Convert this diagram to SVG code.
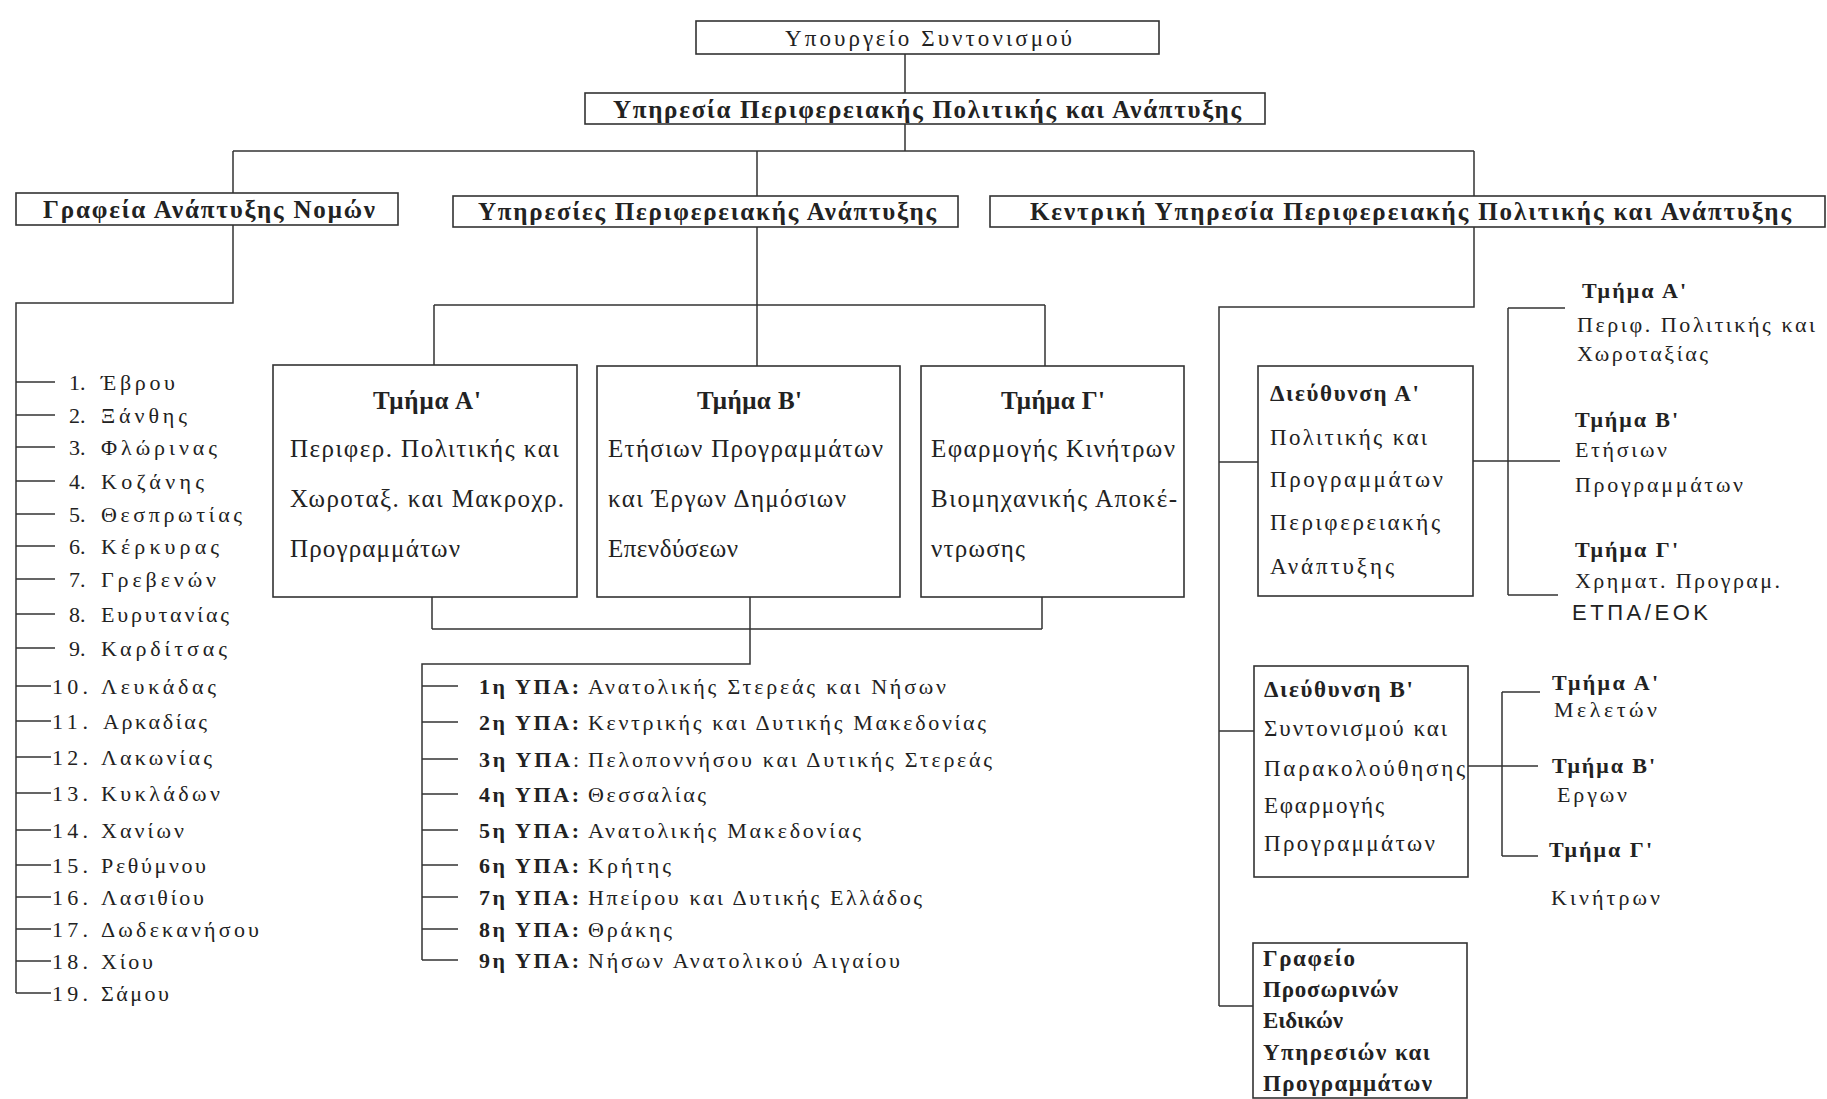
<svg xmlns="http://www.w3.org/2000/svg" width="1827" height="1099" viewBox="0 0 1827 1099">
<style>
text{font-family:"Liberation Serif","Times New Roman",serif;fill:#222}
.b{font-weight:bold}
.s22{font-size:22px}
.s23{font-size:23px}
.s24{font-size:24px}
.s25{font-size:25px}
.box{fill:#fff;stroke:#333;stroke-width:1.6}
.ln{fill:none;stroke:#333;stroke-width:1.5}
</style>
<rect width="1827" height="1099" fill="#fff"/>
<g id="connectors" class="ln">
<path d="M905 54V93M905 124V151M233 151H1474M233 151V193M757 151V196M1474 151V196"/>
<path d="M233 225V303H16V993"/>
<path d="M16 382H55M16 415H55M16 447H55M16 481H55M16 514H55M16 546H55M16 579H55M16 614H55M16 648H55M16 686H51M16 721H51M16 757H51M16 793H51M16 830H51M16 865H51M16 897H51M16 929H51M16 961H51M16 993H51"/>
<path d="M757 227V305M434 305H1045M434 305V365M757 305V366M1045 305V366"/>
<path d="M432 597V629M750 597V629M1042 597V629M432 629H1042M750 629V664H422V960"/>
<path d="M422 686H458M422 722H458M422 759H458M422 794H458M422 830H458M422 865H458M422 897H458M422 929H458M422 960H458"/>
<path d="M1474 227V307H1219V1006M1219 462H1258M1219 731H1254M1219 1006H1253"/>
<path d="M1473 461H1560M1508 308V595M1508 308H1565M1508 595H1558"/>
<path d="M1468 766H1538M1502 692V856M1502 692H1540M1502 856H1538"/>
</g>
<g id="n-ministry"><rect class="box" x="696" y="21" width="463" height="33"/><text class="s23" x="785" y="46" textLength="287" lengthAdjust="spacing">Υπουργείο Συντονισμού</text></g>
<g id="n-service"><rect class="box" x="585" y="93" width="680" height="31"/><text class="s25 b" x="613" y="118" textLength="628" lengthAdjust="spacing">Υπηρεσία Περιφερειακής Πολιτικής και Ανάπτυξης</text></g>
<g id="n-grafeia"><rect class="box" x="16" y="193" width="382" height="32"/><text class="s25 b" x="43" y="218" textLength="332" lengthAdjust="spacing">Γραφεία Ανάπτυξης Νομών</text></g>
<g id="n-ypiresies"><rect class="box" x="453" y="196" width="505" height="31"/><text class="s25 b" x="478" y="220" textLength="458" lengthAdjust="spacing">Υπηρεσίες Περιφερειακής Ανάπτυξης</text></g>
<g id="n-kentriki"><rect class="box" x="990" y="196" width="835" height="31"/><text class="s25 b" x="1030" y="220" textLength="761" lengthAdjust="spacing">Κεντρική Υπηρεσία Περιφερειακής Πολιτικής και Ανάπτυξης</text></g>
<g id="n-nomoi" class="s22">
<text x="69" y="390">1.</text><text x="101" y="390" textLength="74" lengthAdjust="spacing">Έβρου</text>
<text x="69" y="423">2.</text><text x="101" y="423" textLength="86" lengthAdjust="spacing">Ξάνθης</text>
<text x="69" y="455">3.</text><text x="101" y="455" textLength="116" lengthAdjust="spacing">Φλώρινας</text>
<text x="69" y="489">4.</text><text x="101" y="489" textLength="103" lengthAdjust="spacing">Κοζάνης</text>
<text x="69" y="522">5.</text><text x="101" y="522" textLength="141" lengthAdjust="spacing">Θεσπρωτίας</text>
<text x="69" y="554">6.</text><text x="101" y="554" textLength="118" lengthAdjust="spacing">Κέρκυρας</text>
<text x="69" y="587">7.</text><text x="101" y="587" textLength="115" lengthAdjust="spacing">Γρεβενών</text>
<text x="69" y="622">8.</text><text x="101" y="622" textLength="128" lengthAdjust="spacing">Ευρυτανίας</text>
<text x="69" y="656">9.</text><text x="101" y="656" textLength="126" lengthAdjust="spacing">Καρδίτσας</text>
<text x="52" y="694" textLength="36" lengthAdjust="spacing">10.</text><text x="101" y="694" textLength="115" lengthAdjust="spacing">Λευκάδας</text>
<text x="52" y="729" textLength="36" lengthAdjust="spacing">11.</text><text x="103" y="729" textLength="104" lengthAdjust="spacing">Αρκαδίας</text>
<text x="52" y="765" textLength="36" lengthAdjust="spacing">12.</text><text x="101" y="765" textLength="111" lengthAdjust="spacing">Λακωνίας</text>
<text x="52" y="801" textLength="36" lengthAdjust="spacing">13.</text><text x="101" y="801" textLength="119" lengthAdjust="spacing">Κυκλάδων</text>
<text x="52" y="838" textLength="36" lengthAdjust="spacing">14.</text><text x="101" y="838" textLength="83" lengthAdjust="spacing">Χανίων</text>
<text x="52" y="873" textLength="36" lengthAdjust="spacing">15.</text><text x="101" y="873" textLength="105" lengthAdjust="spacing">Ρεθύμνου</text>
<text x="52" y="905" textLength="36" lengthAdjust="spacing">16.</text><text x="101" y="905" textLength="103" lengthAdjust="spacing">Λασιθίου</text>
<text x="52" y="937" textLength="36" lengthAdjust="spacing">17.</text><text x="101" y="937" textLength="158" lengthAdjust="spacing">Δωδεκανήσου</text>
<text x="52" y="969" textLength="36" lengthAdjust="spacing">18.</text><text x="101" y="969" textLength="52" lengthAdjust="spacing">Χίου</text>
<text x="52" y="1001" textLength="36" lengthAdjust="spacing">19.</text><text x="101" y="1001" textLength="68" lengthAdjust="spacing">Σάμου</text>
</g>
<g id="n-tmimaA" class="s25"><rect class="box" x="273" y="365" width="304" height="232"/>
<text class="b" x="373" y="409" textLength="108" lengthAdjust="spacing">Τμήμα Α'</text>
<text x="290" y="457" textLength="269" lengthAdjust="spacing">Περιφερ. Πολιτικής και</text>
<text x="290" y="507" textLength="274" lengthAdjust="spacing">Χωροταξ. και Μακροχρ.</text>
<text x="290" y="557" textLength="170" lengthAdjust="spacing">Προγραμμάτων</text></g>
<g id="n-tmimaB" class="s25"><rect class="box" x="597" y="366" width="303" height="231"/>
<text class="b" x="697" y="409" textLength="105" lengthAdjust="spacing">Τμήμα Β'</text>
<text x="608" y="457" textLength="275" lengthAdjust="spacing">Ετήσιων Προγραμμάτων</text>
<text x="608" y="507" textLength="238" lengthAdjust="spacing">και Έργων Δημόσιων</text>
<text x="608" y="557" textLength="130" lengthAdjust="spacing">Επενδύσεων</text></g>
<g id="n-tmimaG" class="s25"><rect class="box" x="921" y="366" width="263" height="231"/>
<text class="b" x="1001" y="409" textLength="104" lengthAdjust="spacing">Τμήμα Γ'</text>
<text x="931" y="457" textLength="244" lengthAdjust="spacing">Εφαρμογής Κινήτρων</text>
<text x="931" y="507" textLength="246" lengthAdjust="spacing">Βιομηχανικής Αποκέ-</text>
<text x="931" y="557" textLength="94" lengthAdjust="spacing">ντρωσης</text></g>
<g id="n-ypa" class="s22">
<text class="b" x="479" y="694" textLength="100" lengthAdjust="spacing">1η ΥΠΑ:</text><text x="588" y="694" textLength="358" lengthAdjust="spacing">Ανατολικής Στερεάς και Νήσων</text>
<text class="b" x="479" y="730" textLength="100" lengthAdjust="spacing">2η ΥΠΑ:</text><text x="588" y="730" textLength="398" lengthAdjust="spacing">Κεντρικής και Δυτικής Μακεδονίας</text>
<text x="479" y="767" textLength="100" lengthAdjust="spacing"><tspan class="b">3η ΥΠΑ</tspan>:</text><text x="588" y="767" textLength="404" lengthAdjust="spacing">Πελοποννήσου και Δυτικής Στερεάς</text>
<text class="b" x="479" y="802" textLength="100" lengthAdjust="spacing">4η ΥΠΑ:</text><text x="588" y="802" textLength="118" lengthAdjust="spacing">Θεσσαλίας</text>
<text class="b" x="479" y="838" textLength="100" lengthAdjust="spacing">5η ΥΠΑ:</text><text x="588" y="838" textLength="273" lengthAdjust="spacing">Ανατολικής Μακεδονίας</text>
<text class="b" x="479" y="873" textLength="100" lengthAdjust="spacing">6η ΥΠΑ:</text><text x="588" y="873" textLength="83" lengthAdjust="spacing">Κρήτης</text>
<text class="b" x="479" y="905" textLength="100" lengthAdjust="spacing">7η ΥΠΑ:</text><text x="588" y="905" textLength="334" lengthAdjust="spacing">Ηπείρου και Δυτικής Ελλάδος</text>
<text class="b" x="479" y="937" textLength="100" lengthAdjust="spacing">8η ΥΠΑ:</text><text x="588" y="937" textLength="84" lengthAdjust="spacing">Θράκης</text>
<text class="b" x="479" y="968" textLength="100" lengthAdjust="spacing">9η ΥΠΑ:</text><text x="588" y="968" textLength="312" lengthAdjust="spacing">Νήσων Ανατολικού Αιγαίου</text>
</g>
<g id="n-dirA" class="s23"><rect class="box" x="1258" y="366" width="215" height="230"/>
<text class="b" x="1270" y="401" textLength="149" lengthAdjust="spacing">Διεύθυνση Α'</text>
<text x="1270" y="445" textLength="157" lengthAdjust="spacing">Πολιτικής και</text>
<text x="1270" y="487" textLength="173" lengthAdjust="spacing">Προγραμμάτων</text>
<text x="1270" y="530" textLength="170" lengthAdjust="spacing">Περιφερειακής</text>
<text x="1270" y="574" textLength="124" lengthAdjust="spacing">Ανάπτυξης</text></g>
<g id="n-dirA-tmimata" class="s22">
<text class="b" x="1582" y="298" textLength="104" lengthAdjust="spacing">Τμήμα Α'</text>
<text x="1577" y="332" textLength="238" lengthAdjust="spacing">Περιφ. Πολιτικής και</text>
<text x="1577" y="361" textLength="131" lengthAdjust="spacing">Χωροταξίας</text>
<text class="b" x="1575" y="427" textLength="103" lengthAdjust="spacing">Τμήμα Β'</text>
<text x="1575" y="457" textLength="92" lengthAdjust="spacing">Ετήσιων</text>
<text x="1575" y="492" textLength="168" lengthAdjust="spacing">Προγραμμάτων</text>
<text class="b" x="1575" y="557" textLength="103" lengthAdjust="spacing">Τμήμα Γ'</text>
<text x="1575" y="588" textLength="205" lengthAdjust="spacing">Χρηματ. Προγραμ.</text>
<text x="1572" y="620" style="font-family:'Liberation Sans',Arial,sans-serif" textLength="136" lengthAdjust="spacing">ΕΤΠΑ/ΕΟΚ</text></g>
<g id="n-dirB" class="s23"><rect class="box" x="1254" y="666" width="214" height="211"/>
<text class="b" x="1264" y="697" textLength="149" lengthAdjust="spacing">Διεύθυνση Β'</text>
<text x="1264" y="736" textLength="183" lengthAdjust="spacing">Συντονισμού και</text>
<text x="1264" y="776" textLength="201" lengthAdjust="spacing">Παρακολούθησης</text>
<text x="1264" y="813" textLength="120" lengthAdjust="spacing">Εφαρμογής</text>
<text x="1264" y="851" textLength="171" lengthAdjust="spacing">Προγραμμάτων</text></g>
<g id="n-dirB-tmimata" class="s22">
<text class="b" x="1552" y="690" textLength="106" lengthAdjust="spacing">Τμήμα Α'</text>
<text x="1554" y="717" textLength="103" lengthAdjust="spacing">Μελετών</text>
<text class="b" x="1552" y="773" textLength="103" lengthAdjust="spacing">Τμήμα Β'</text>
<text x="1557" y="802" textLength="70" lengthAdjust="spacing">Εργων</text>
<text class="b" x="1549" y="857" textLength="103" lengthAdjust="spacing">Τμήμα Γ'</text>
<text x="1551" y="905" textLength="109" lengthAdjust="spacing">Κινήτρων</text></g>
<g id="n-grafeio" class="s23 b"><rect class="box" x="1253" y="943" width="214" height="155"/>
<text x="1263" y="966" textLength="92" lengthAdjust="spacing">Γραφείο</text>
<text x="1263" y="997" textLength="135" lengthAdjust="spacing">Προσωρινών</text>
<text x="1263" y="1028" textLength="80" lengthAdjust="spacing">Ειδικών</text>
<text x="1263" y="1060" textLength="167" lengthAdjust="spacing">Υπηρεσιών και</text>
<text x="1263" y="1091" textLength="169" lengthAdjust="spacing">Προγραμμάτων</text></g>
</svg>
